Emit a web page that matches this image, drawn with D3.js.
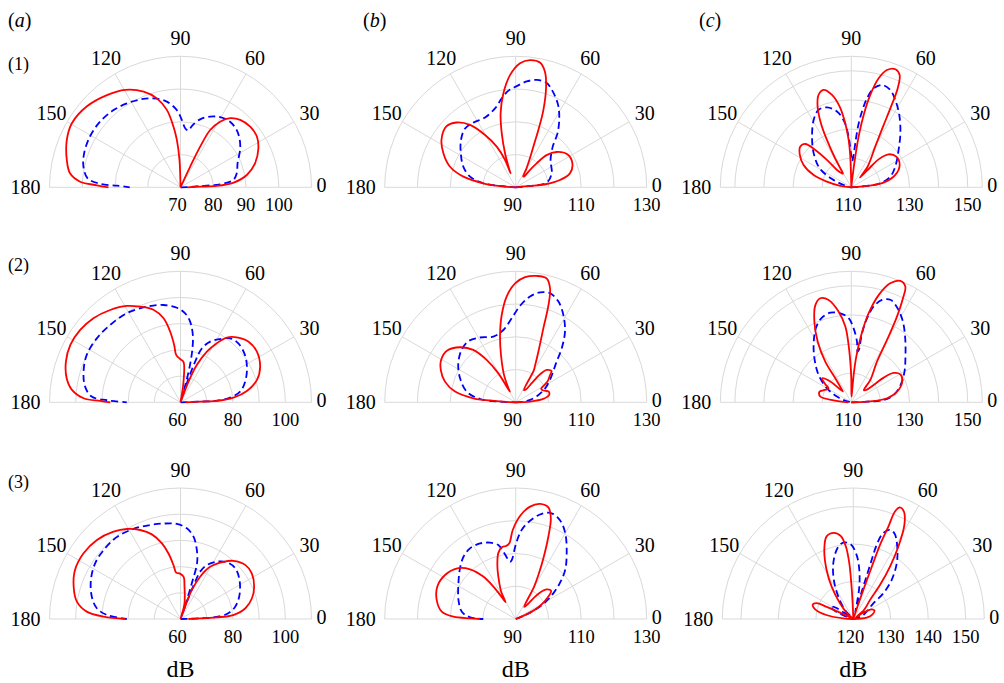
<!DOCTYPE html>
<html><head><meta charset="utf-8">
<script src="https://cdn.jsdelivr.net/npm/d3@7"></script>
<style>
body{margin:0;background:#fff}
svg{display:block}
text{font-family:"Liberation Serif","DejaVu Serif","Times New Roman",serif;fill:#000}
</style>
</head><body>
<svg id="chart" width="1004" height="683" font-family="Liberation Serif, DejaVu Serif, serif"></svg>
<script>
// ---------- data: [angle (deg), level (dB)] ----------
const thetaTicks = [0, 30, 60, 90, 120, 150, 180];
const colLetters = ["a", "b", "c"];
const rowNames = ["(1)", "(2)", "(3)"];
const axisTitle = "dB";

const a1Red = [[0,72],[1.9,76],[2.1,81.1],[5,86.3],[10.5,90.6],[17.8,93.9],[26.6,96.6],[33.6,98],[41,98.2],[48.5,97.5],[54.3,96],[58.9,93.4],[62.6,89.7],[64.2,83.8],[64.9,76.9],[65.5,70],[88,70],[92.1,78.3],[94.4,84.5],[96.6,88.6],[100,94],[104.9,98.1],[111.1,101.3],[119.6,104.2],[128.6,106],[139.3,107.8],[149.5,108.5],[157.4,107.6],[166.5,105.7],[172.8,104],[176.8,100.7],[178.6,95.5],[180,92]];
const a1Blue = [[0,70],[1,72],[3.9,76],[4.3,82.1],[7.9,86.3],[14,87.7],[22.8,88.9],[34.3,92.1],[44.3,94.3],[52.9,95.1],[60.5,94.6],[67.2,93.4],[73.9,91.6],[79.5,89],[82,87.5],[85.5,88.1],[88.9,90.6],[92.7,93.6],[99.1,96.5],[106.9,98.4],[114.6,99.5],[122.6,100.4],[130.9,101.2],[140.7,101.7],[150.7,101.7],[160.6,101.2],[168,100.3],[174.5,98.5],[177.6,94.5],[178.5,89.4],[180,85.5]];

const a2Red = [[0,62],[1.9,67.5],[2.1,73.9],[5,80.3],[9.7,85.7],[16.3,90.4],[24.1,93.3],[33.6,95],[41.7,94.8],[49.1,92.8],[54.4,90.4],[58.4,86.5],[62.5,81.8],[66.4,75.5],[68.8,68.4],[70,60],[80,60],[81.7,68],[85.8,75.5],[90.4,76.5],[95.2,78.2],[96.3,82],[98.3,87.2],[101.4,92.7],[106.3,96.8],[112.9,99.6],[119.1,102.1],[127.3,104.3],[136,106.2],[144.2,107.2],[152.5,107.4],[160.5,106.4],[168.1,104.4],[173.5,101.7],[177.6,97],[179,90.7],[180,86.8]];
const a2Blue = [[0,60],[1.9,67.5],[2.6,73.9],[5.4,79],[10.1,83.1],[17.7,85.9],[27.1,88.5],[36.2,90.5],[45.5,91.5],[52.2,90.9],[57.9,88.5],[63.9,85.8],[68.4,82.1],[70.2,76.5],[71.5,68],[73,61],[74.5,68],[75.8,75],[77.5,81.1],[79.6,86.1],[83.2,91],[87,94],[92.2,96.1],[99.9,97.7],[109.4,98.7],[121.1,99.7],[132.3,99.9],[142.6,100.2],[153.2,100.1],[162.5,98.8],[170.7,96.9],[176.3,94],[178.4,88.1],[180,80.5]];

const a3Red = [[0,63],[1,64],[2.1,70],[2.6,74],[4.3,80.2],[9.4,85.1],[16.2,88.4],[23.7,90.7],[32.6,92.3],[39.9,92.2],[47.7,90],[53.1,87.3],[60.5,82.9],[65.1,77.8],[68.7,71.8],[69.7,63.7],[71,60],[74,60],[75.7,66.1],[83,72.5],[85.9,76.2],[91.3,77.4],[95.3,77.8],[97.4,80.7],[100.4,85.4],[103.9,89.8],[108.7,94.1],[114.4,97.3],[120.8,100],[127.5,102],[136.6,103.9],[145.9,104.7],[155.1,104.4],[163.2,102.6],[170.5,100.1],[175.5,95.9],[178.3,89.4],[180,81.1]];
const a3Blue = [[0,60],[1,63],[1.9,67.5],[2.9,72.6],[6.2,77.8],[12.7,81.4],[22.1,84.3],[33.5,87],[42.8,88.5],[50.7,88],[57.6,85.9],[64,82.9],[67.4,79.6],[68.6,74.6],[69.5,67],[70.5,61],[71.5,68],[72.5,75],[73.5,82.3],[76.7,87.1],[81,91.8],[86,94.7],[92.2,96.3],[100.1,97],[107.9,97.7],[117.6,98.8],[127.9,99.6],[138.1,99.4],[146.9,98.9],[156.5,97.3],[165.9,94.9],[172.7,92.2],[176.9,88.1],[180,80.5]];

const b1Red = [[0,90],[5.3,94.4],[6.1,99.5],[9.4,103.7],[14.4,107.1],[23,108.8],[32.6,108.7],[40.8,106.5],[46.2,103.6],[48.8,99.7],[51,96.1],[52,94.2],[55,94],[60,96.5],[63.4,99.3],[66.5,103.5],[68.4,108.8],[70.3,115.1],[73.2,122.1],[75.8,126.4],[79,128.8],[83.6,129.1],[88,127.9],[92.9,124.3],[97.5,118.9],[101.5,113.1],[104.5,107],[107.4,100.9],[109.5,96],[110.3,94.5],[111.3,99],[115,103.7],[120.4,108.5],[126.2,113.6],[132.4,116.8],[138.9,118.2],[147.4,116.9],[154.8,114.4],[162.5,111.1],[168.5,106.3],[172.9,100],[175.5,95],[178,91.5],[180,90]];
const b1Blue = [[0,90],[5.3,94.4],[8.6,99.6],[21.3,101.8],[38,103.5],[47.7,106.8],[52.3,110.9],[57.7,114.9],[62.8,118.3],[68.9,121.4],[73.8,123.3],[78.9,123.4],[84.1,122.5],[89.4,120.9],[94.3,119.6],[98.9,117.5],[104.7,114.9],[113.7,113.3],[123.2,113.6],[130.7,113.7],[139.1,112.1],[148.3,109.7],[158.5,107.2],[166.9,104.3],[172.9,100],[175.1,94.8],[180,90]];

const b2Red = [[0,90],[2.7,94.4],[6.9,98.5],[12,100.4],[18,100.6],[24,99],[28,98.8],[33,101.5],[38.5,103.4],[41,104.5],[46.2,103.7],[49,101.3],[50,97.6],[51.5,95],[56,94.5],[60.4,101.2],[62,102.5],[65.9,107],[69.5,114.1],[71.4,121.4],[73.2,126.3],[76,129],[80.6,129.1],[85.7,128.3],[90.3,126.3],[94.9,122.4],[99.1,117],[103.1,111.1],[107.2,105.2],[113.1,99.1],[117,95],[118.5,93.7],[119.9,95.5],[120.9,100.3],[124.4,105.7],[129,110.6],[135.3,113.9],[142.9,116.2],[150.4,116.2],[156.7,114.9],[163.7,112.5],[170,108.8],[174.6,103],[176.5,95.8],[178.5,92],[180,90]];
const b2Blue = [[0,90],[4,92],[9.2,94.5],[17.9,97.3],[25.5,100],[34.4,102.9],[44,107.1],[49.6,111.7],[55.1,116.3],[61.4,120.4],[67,123.4],[72.5,124.9],[77.5,124.4],[82.3,122.6],[87.4,119.5],[92.7,115.7],[99.7,112.4],[108.8,111.2],[118.9,112.6],[127.7,113.6],[135.9,113],[145.8,111.2],[156.7,108.5],[167.7,105.3],[174.7,100.9],[177.6,94.8],[180,90]];

const b3Red = [[0,90],[20,90],[23.8,94.8],[28.1,98.4],[34.4,102.1],[38.4,103.8],[43.7,103.1],[47.3,101],[49.5,98.3],[51,95.8],[55,94.5],[59.7,99.7],[60.4,101.4],[62.7,105.1],[65.5,110.4],[68.4,117.1],[70.8,122.6],[73.7,125.5],[78.1,125.9],[82.7,124.6],[87.6,121.5],[91.9,117.2],[94.8,113.2],[97.5,112.5],[101,112.3],[104.8,110.8],[109.3,106.9],[114.6,102],[118,99.5],[121,96],[122.5,98],[124.6,102],[127.4,106.3],[132.6,110.6],[138.5,113.4],[148.1,115.4],[157.6,115.9],[166.5,114.8],[174.3,112.7],[177.9,109],[179.2,103.9],[180,100.9]];
const b3Blue = [[0,90],[20,90],[23.8,94.8],[28.5,99.6],[34.3,103.9],[39.3,107.5],[44.8,111.3],[52.2,115.4],[59.9,120.2],[65.7,123],[71.2,124.1],[76.1,123.1],[81.7,120.3],[86.1,117.3],[89.7,113.1],[93.9,108],[95.6,107.6],[100.4,110.9],[103.2,113.2],[108.6,114.6],[115.2,115.5],[122.9,115.7],[130,114.8],[137.7,113],[148.1,110.6],[161.7,108.4],[172.3,106.6],[177.9,103.9],[180,99.9]];

const c1Red = [[0,110],[4.9,115.4],[8.2,121.2],[15.7,125.7],[24.8,128.3],[34.3,128.7],[41.5,127.1],[45.7,123.4],[46.5,119.5],[47,116.4],[48.5,114.5],[51.7,119],[59.5,126.2],[62.4,133.5],[63.8,140.9],[64.9,147.6],[66.7,152],[69.5,153.3],[73.1,152.1],[75.9,148.6],[78.4,142.4],[80.3,135.2],[81.8,127.6],[82.6,120.6],[83.5,113.7],[85,110],[89,110],[91.4,114.8],[91.9,120.5],[93.2,126.3],[95.4,132.1],[98.2,138],[101.8,142.4],[105.9,144.8],[109.5,143.7],[112.7,140],[115.4,134.3],[117.2,128.3],[119,122],[120,117.5],[121.5,115.5],[125,116],[129.6,117.7],[131.7,122.6],[134,127.8],[136.7,131.7],[141.4,132.4],[147.2,131.1],[154.9,128.1],[161.9,123.6],[166.9,118.6],[173.1,113.8],[180,110]];
const c1Blue = [[0,110],[4.9,115.4],[7.9,120.1],[15.3,123.9],[25.2,126.7],[38.3,130.7],[47.8,135.1],[56.4,139.8],[63.3,143.6],[68.2,146],[73.3,146.7],[77.3,144.8],[80,141],[82,136.2],[83.7,131],[84.8,125.2],[85.9,121.1],[88,119],[90.6,121.7],[93,127.4],[96.1,132.7],[100.7,136.5],[106.9,138.7],[112.9,138.9],[119.2,136.5],[127.8,132],[137.9,127.4],[149,122.7],[156.7,117.2],[163,112.7],[170,110.5],[180,110]];

const c2Red = [[0,110],[2.4,115.4],[6.4,122.4],[13.7,126.4],[22.7,129],[29.7,129.4],[34.7,127.7],[37.3,124],[37.8,119.7],[39.4,116.7],[44,116],[49.6,120.1],[57.7,126.5],[60.2,134.6],[61.8,142.7],[63.6,149.9],[65,153.9],[68,155],[71.9,153],[75.7,148],[79,141.1],[81.6,133.4],[83.8,125.8],[85.1,119.4],[86,113.7],[88,112],[90,118.2],[91.4,124],[92.7,129.7],[94.5,136.1],[98,141.5],[102.5,146],[106.6,147.3],[110.3,145.6],[114.6,140.5],[119,133.8],[122.6,126.6],[123.7,119.9],[126,116],[128,114.7],[135,120],[140.7,123],[145,121],[148.3,119.2],[152,119.5],[157,120.5],[161.4,121.5],[165,121.5],[169.6,120.8],[173.5,116.1],[180,111]];
const c2Blue = [[0,110],[2.4,115.4],[4.1,121.1],[9.8,124.8],[19.9,128.1],[30,131.1],[41.1,134.7],[49.8,138.7],[57.4,142.9],[63.8,146],[69.1,147.7],[73.3,146.7],[76.9,143.8],[79.4,139.3],[81.2,133.9],[81.8,128.2],[83,127.5],[84.7,131],[88.2,135.4],[91.8,138.9],[97,140.8],[103.2,141.6],[109.1,140.8],[114.8,138.6],[121.8,134.5],[130,129.7],[140,124.7],[150.1,119.6],[158.4,115.3],[166,112],[180,110]];

const c3Red = [[0,120],[5.7,123.6],[13.6,125.3],[22.4,126.1],[28,125.5],[32,123],[36,121],[40,123.7],[48.7,126.8],[51.9,131.6],[55,137.1],[58.1,142.8],[61.5,148.6],[64.7,151.7],[67.3,152.3],[68.8,150.8],[69.2,146.4],[70.2,141],[70.5,134.8],[71,128.3],[71.5,123.6],[73,120],[90,120],[92.4,124.2],[93.2,129.5],[94.1,134.9],[95.8,139.4],[98.5,142.4],[102.6,143.6],[107.9,143.2],[112.8,140],[118.6,134.9],[123.8,130.4],[130.4,125.5],[136.5,122.5],[142,120],[150,120],[154,123],[155.5,127.8],[156.5,130.7],[160.5,131.5],[164,131],[168.2,129.5],[172.7,126.3],[176.2,122.7],[180,120]];
const c3Blue = [[0,120],[15,120.5],[21.8,122.9],[38.1,126.8],[40.5,130.5],[45.5,134.6],[52.1,138.9],[58.7,142.6],[64.4,145.4],[68,145.7],[71,144.1],[72.5,140.8],[72.7,135.6],[72.8,130.4],[73,126.3],[75,122],[77,124],[79.5,128.8],[83,133.2],[87,137.1],[92,140],[97.5,140.6],[102.8,139.3],[109.8,135.8],[116.4,131.7],[123.9,127.2],[132.8,123.3],[140,121],[147,125.5],[151,127],[156,125.5],[163,121.5],[170,120],[180,120]];

// radial axes per panel
const domA1 = [70, 110], ringsA1 = [80, 90, 100, 110], ticksA1 = [70, 80, 90, 100];
const domA23 = [60, 110], ringsA23 = [70, 80, 90, 100, 110], ticksA23 = [60, 80, 100];
const domB = [90, 130], ringsB = [100, 110, 120, 130], ticksB = [90, 110, 130];
const domC12 = [110, 155], ringsC12 = [120, 130, 140, 150, 155], ticksC12 = [110, 130, 150];
const domC3 = [120, 155], ringsC3 = [130, 140, 150, 155], ticksC3 = [120, 130, 140, 150];

const panels = [
  {col:0,row:0,dom:domA1,rings:ringsA1,ticks:ticksA1,red:a1Red,blue:a1Blue},
  {col:1,row:0,dom:domB,rings:ringsB,ticks:ticksB,red:b1Red,blue:b1Blue},
  {col:2,row:0,dom:domC12,rings:ringsC12,ticks:ticksC12,red:c1Red,blue:c1Blue},
  {col:0,row:1,dom:domA23,rings:ringsA23,ticks:ticksA23,red:a2Red,blue:a2Blue},
  {col:1,row:1,dom:domB,rings:ringsB,ticks:ticksB,red:b2Red,blue:b2Blue},
  {col:2,row:1,dom:domC12,rings:ringsC12,ticks:ticksC12,red:c2Red,blue:c2Blue},
  {col:0,row:2,dom:domA23,rings:ringsA23,ticks:ticksA23,red:a3Red,blue:a3Blue},
  {col:1,row:2,dom:domB,rings:ringsB,ticks:ticksB,red:b3Red,blue:b3Blue},
  {col:2,row:2,dom:domC3,rings:ringsC3,ticks:ticksC3,red:c3Red,blue:c3Blue,dx:2}
];

// ---------- layout ----------
const R = 131;
const colX = [180.5, 515.7, 851.3];
const rowY = [187.3, 402.3, 619];
const gridColor = "#d9d9d9";

const svg = d3.select("#chart");
const rad = d => d * Math.PI / 180;

panels.forEach(p => {
  const cx = colX[p.col] + (p.dx || 0), cy = rowY[p.row];
  const g = svg.append("g").attr("transform", `translate(${cx},${cy})`);
  const r = d3.scaleLinear().domain(p.dom).range([0, R]).clamp(true);

  // rings
  p.rings.forEach(v => {
    const path = d3.path();
    path.arc(0, 0, r(v), Math.PI, 2 * Math.PI);
    g.append("path").attr("d", path.toString()).attr("fill", "none")
      .attr("stroke", gridColor).attr("stroke-width", 1);
  });
  // spokes
  thetaTicks.forEach(t => {
    g.append("line").attr("x1", 0).attr("y1", 0)
      .attr("x2", R * Math.cos(rad(t))).attr("y2", -R * Math.sin(rad(t)))
      .attr("stroke", gridColor).attr("stroke-width", 1);
  });
  // angle labels
  thetaTicks.forEach(t => {
    let x, y, anchor = "middle";
    if (t === 0) { x = R + 5; y = -2; anchor = "start"; }
    else if (t === 180) { x = -R - 9; y = 0; anchor = "end"; }
    else { const L = 149; x = L * Math.cos(rad(t)); y = -L * Math.sin(rad(t)); }
    g.append("text").attr("x", x).attr("y", y).attr("dy", "0.35em")
      .attr("text-anchor", anchor).attr("font-size", 20).text(t);
  });
  // radial tick labels
  p.ticks.forEach((v, i) => {
    g.append("text").attr("x", r(v) - (i === 0 ? 3 : 0)).attr("y", 24)
      .attr("text-anchor", "middle").attr("font-size", 18.5).text(v);
  });

  const line = d3.lineRadial()
    .angle(d => rad(90 - d[0]))
    .radius(d => r(d[1]))
    .curve(d3.curveCatmullRom.alpha(0.5));

  g.append("path").attr("d", line(p.blue)).attr("fill", "none")
    .attr("stroke", "#0000ff").attr("stroke-width", 1.8)
    .attr("stroke-dasharray", "7,4");
  g.append("path").attr("d", line(p.red)).attr("fill", "none")
    .attr("stroke", "#ff0000").attr("stroke-width", 1.8);
});

// column letters
const letterX = [8, 363, 699];
colLetters.forEach((c, i) => {
  const t = svg.append("text").attr("x", letterX[i]).attr("y", 27).attr("font-size", 20);
  t.append("tspan").text("(");
  t.append("tspan").attr("font-style", "italic").text(c);
  t.append("tspan").text(")");
});
// row labels
const rowLabelY = [69.5, 271, 488];
rowNames.forEach((n, i) => {
  svg.append("text").attr("x", 8).attr("y", rowLabelY[i]).attr("font-size", 18).text(n);
});
// axis titles
colX.forEach((x, i) => {
  svg.append("text").attr("x", x + (i === 2 ? 2 : 0)).attr("y", 677)
    .attr("text-anchor", "middle").attr("font-size", 24).text(axisTitle);
});
</script>
</body></html>
